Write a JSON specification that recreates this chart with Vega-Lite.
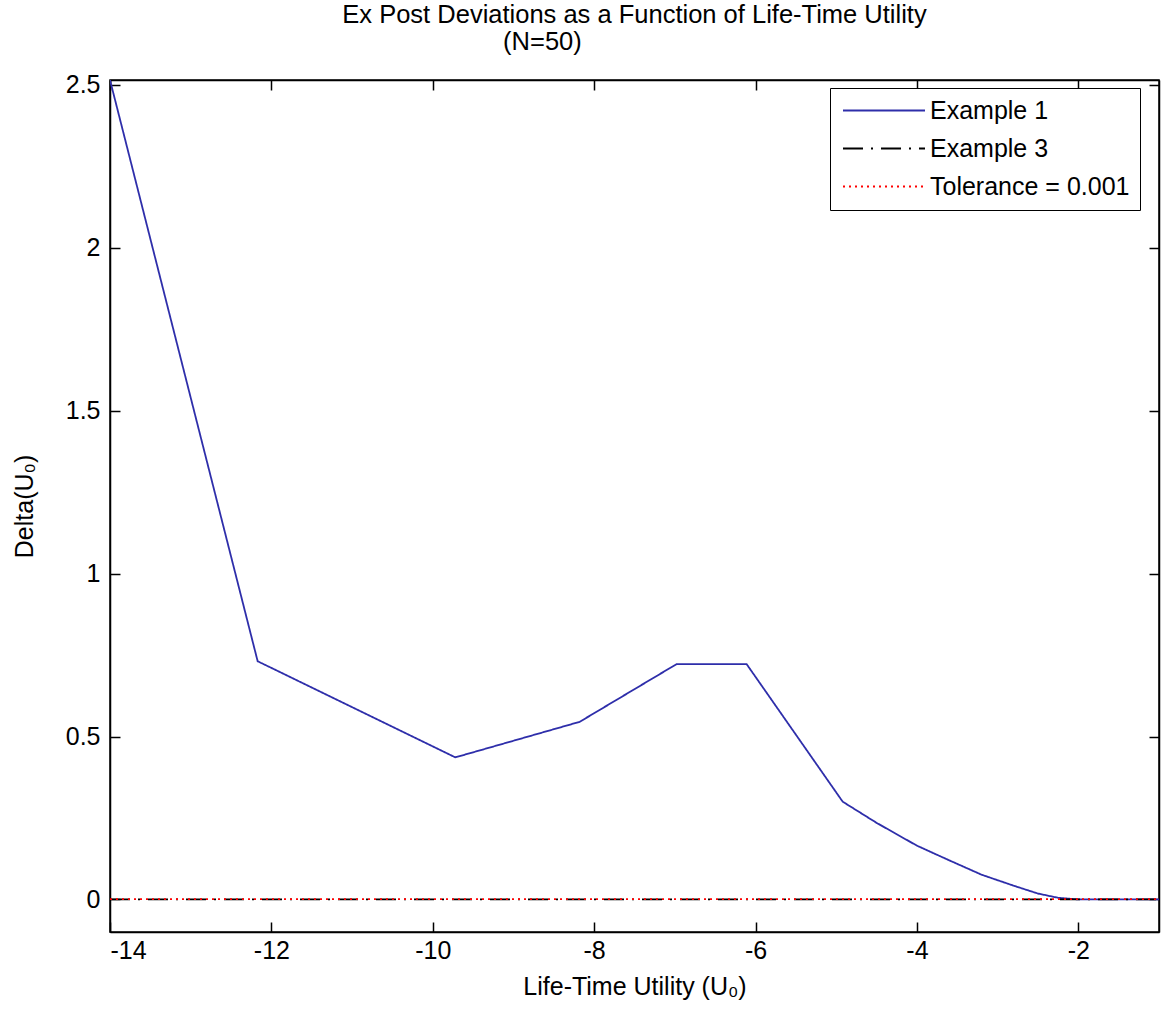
{
  "$schema": "https://vega.github.io/schema/vega-lite/v6.json",
  "width": 1049,
  "height": 852,
  "autosize": "none",
  "padding": {"left": 110, "top": 80, "right": 4, "bottom": 80},
  "background": "white",
  "title": {
    "text": "Ex Post Deviations as a Function of Life-Time Utility",
    "subtitle": "(N=50)\u00a0\u00a0\u00a0\u00a0\u00a0\u00a0\u00a0\u00a0\u00a0\u00a0\u00a0\u00a0\u00a0\u00a0\u00a0\u00a0\u00a0\u00a0\u00a0\u00a0\u00a0\u00a0\u00a0\u00a0\u00a0\u00a0\u200b",
    "anchor": "middle",
    "frame": "group",
    "font": "Liberation Sans",
    "fontSize": 25.5,
    "fontWeight": "normal",
    "color": "black",
    "subtitleFont": "Liberation Sans",
    "subtitleFontSize": 25.5,
    "subtitleColor": "black",
    "subtitlePadding": 2,
    "offset": 17
  },
  "config": {
    "view": {"stroke": "black", "strokeWidth": 1.5},
    "axis": {
      "grid": false,
      "labelFont": "Liberation Sans",
      "labelFontSize": 25,
      "labelColor": "black",
      "titleFont": "Liberation Sans",
      "titleFontSize": 25,
      "titleFontWeight": "normal",
      "titleColor": "black",
      "tickColor": "black",
      "tickSize": -10,
      "tickWidth": 1.5,
      "domainColor": "black",
      "domainWidth": 1.5
    },
    "legend": {
      "labelFont": "Liberation Sans",
      "labelFontSize": 25,
      "labelColor": "black",
      "labelLimit": 400
    }
  },
  "data": {
    "values": [
      {"series": "Example 1", "u": -14.0, "delta": 2.515},
      {"series": "Example 1", "u": -12.17, "delta": 0.731},
      {"series": "Example 1", "u": -9.72, "delta": 0.436},
      {"series": "Example 1", "u": -8.18, "delta": 0.545},
      {"series": "Example 1", "u": -6.98, "delta": 0.722},
      {"series": "Example 1", "u": -6.11, "delta": 0.722},
      {"series": "Example 1", "u": -4.92, "delta": 0.3},
      {"series": "Example 1", "u": -4.5, "delta": 0.235},
      {"series": "Example 1", "u": -4.0, "delta": 0.165},
      {"series": "Example 1", "u": -3.6, "delta": 0.12},
      {"series": "Example 1", "u": -3.2, "delta": 0.076},
      {"series": "Example 1", "u": -2.8, "delta": 0.042},
      {"series": "Example 1", "u": -2.5, "delta": 0.018},
      {"series": "Example 1", "u": -2.25, "delta": 0.005},
      {"series": "Example 1", "u": -2.0, "delta": 0.0},
      {"series": "Example 1", "u": -1.0, "delta": 0.0},
      {"series": "Example 3", "u": -14.0, "delta": 0.0},
      {"series": "Example 3", "u": -1.0, "delta": 0.0},
      {"series": "Tolerance = 0.001", "u": -14.0, "delta": 0.001},
      {"series": "Tolerance = 0.001", "u": -1.0, "delta": 0.001}
    ]
  },
  "layer": [
    {
      "mark": {"type": "line", "strokeWidth": 1.8, "clip": true},
      "encoding": {
        "x": {
          "field": "u",
          "type": "quantitative",
          "scale": {"domain": [-14, -1], "nice": false, "zero": false},
          "axis": {
            "values": [-14, -12, -10, -8, -6, -4, -2],
            "labelExpr": "datum.value + ''",
            "title": "Life-Time Utility (U₀)",
            "labelPadding": 16,
            "titlePadding": 11
          }
        },
        "y": {
          "field": "delta",
          "type": "quantitative",
          "scale": {"domain": [-0.1, 2.515], "nice": false, "zero": false},
          "axis": {
            "values": [0, 0.5, 1, 1.5, 2, 2.5],
            "labelExpr": "datum.value + ''",
            "title": "Delta(U₀)",
            "labelPadding": 20,
            "titlePadding": 28
          }
        },
        "color": {
          "field": "series",
          "type": "nominal",
          "scale": {
            "domain": ["Example 1", "Example 3", "Tolerance = 0.001"],
            "range": ["#2e2eaa", "#000000", "#ff0000"]
          },
          "legend": {
            "title": null,
            "orient": "none",
            "legendX": 720,
            "legendY": 8,
            "symbolType": "M-4.1,0H4.1",
            "symbolSize": 400,
            "symbolStrokeWidth": 1.8,
            "symbolOffset": 31.5,
            "strokeColor": "black",
            "fillColor": "white",
            "padding": 10,
            "rowPadding": 12,
            "labelOffset": 33.5
          }
        },
        "strokeDash": {
          "field": "series",
          "type": "nominal",
          "scale": {
            "domain": ["Example 1", "Example 3", "Tolerance = 0.001"],
            "range": [[1, 0], [20, 8, 2, 8], [2, 4]]
          },
          "legend": {
            "title": null,
            "orient": "none",
            "legendX": 720,
            "legendY": 8,
            "symbolType": "M-4.1,0H4.1",
            "symbolSize": 400,
            "symbolStrokeWidth": 1.8,
            "symbolOffset": 31.5,
            "strokeColor": "black",
            "fillColor": "white",
            "padding": 10,
            "rowPadding": 12,
            "labelOffset": 33.5
          }
        }
      }
    },
    {
      "mark": {"type": "line", "strokeOpacity": 0},
      "encoding": {
        "x": {
          "field": "u",
          "type": "quantitative",
          "axis": {"orient": "top", "labels": false, "title": null, "values": [-14, -12, -10, -8, -6, -4, -2]}
        },
        "y": {
          "field": "delta",
          "type": "quantitative",
          "axis": {"orient": "right", "labels": false, "title": null, "values": [0, 0.5, 1, 1.5, 2, 2.5]}
        },
        "detail": {"field": "series"}
      }
    }
  ],
  "resolve": {"axis": {"x": "independent", "y": "independent"}}
}
